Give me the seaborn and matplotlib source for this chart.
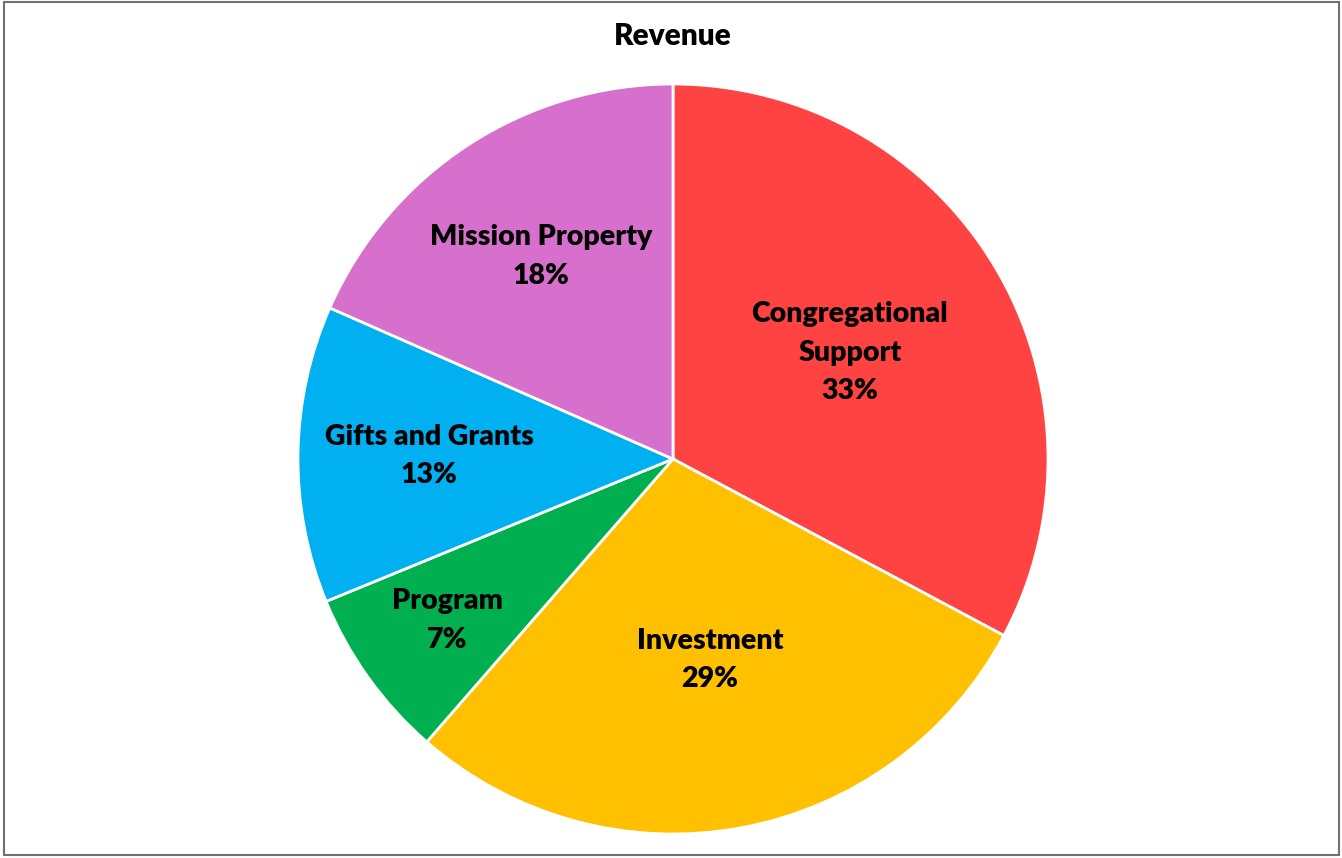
import matplotlib.pyplot as plt
import numpy as np
import seaborn as sns
from matplotlib.patches import Rectangle

sns.set_theme(style="white")
plt.rcParams["font.family"] = ["Lato", "DejaVu Sans"]

categories = ["Congregational\nSupport", "Investment", "Program",
              "Gifts and Grants", "Mission Property"]
shares = [32.8, 28.6, 7.4, 12.8, 18.4]
colors = ["#FF4343", "#FFC000", "#00B050", "#00B0F0", "#D670CC"]
# how far out each label sits (fraction of radius)
label_r = [0.55, 0.545, 0.74, 0.65, 0.645]

fig = plt.figure(figsize=(13.42, 8.58), dpi=100)
ax = fig.add_axes([0, 0, 1, 1])

H = 858
cx, cy, R = 673, H - 459, 375
wedges, _ = ax.pie(shares, colors=colors, startangle=90, counterclock=False,
                   center=(cx, cy), radius=R, frame=True,
                   wedgeprops={"edgecolor": "white", "linewidth": 2})
ax.set_xlim(0, 1342)
ax.set_ylim(0, H)
ax.set_aspect("equal")
ax.axis("off")

total = sum(shares)
start = 0.0
for name, val, rf in zip(categories, shares, label_r):
    mid = (start + val / 2) / total * 2 * np.pi
    start += val
    x = cx + rf * R * np.sin(mid)
    y = cy + rf * R * np.cos(mid)
    ax.text(x, y, f"{name}\n{val:.0f}%", ha="center", va="center",
            fontsize=20.5, fontweight="heavy", color="black", linespacing=1.6)

ax.text(673, H - 36, "Revenue", ha="center", va="center",
        fontsize=21.5, fontweight="heavy", color="black")

fig.patches.append(Rectangle((0.003, 0.003), 0.995, 0.995, transform=fig.transFigure,
                             fill=False, edgecolor="#707070", linewidth=1.5))

fig.savefig("out.png", dpi=100, facecolor="white")
